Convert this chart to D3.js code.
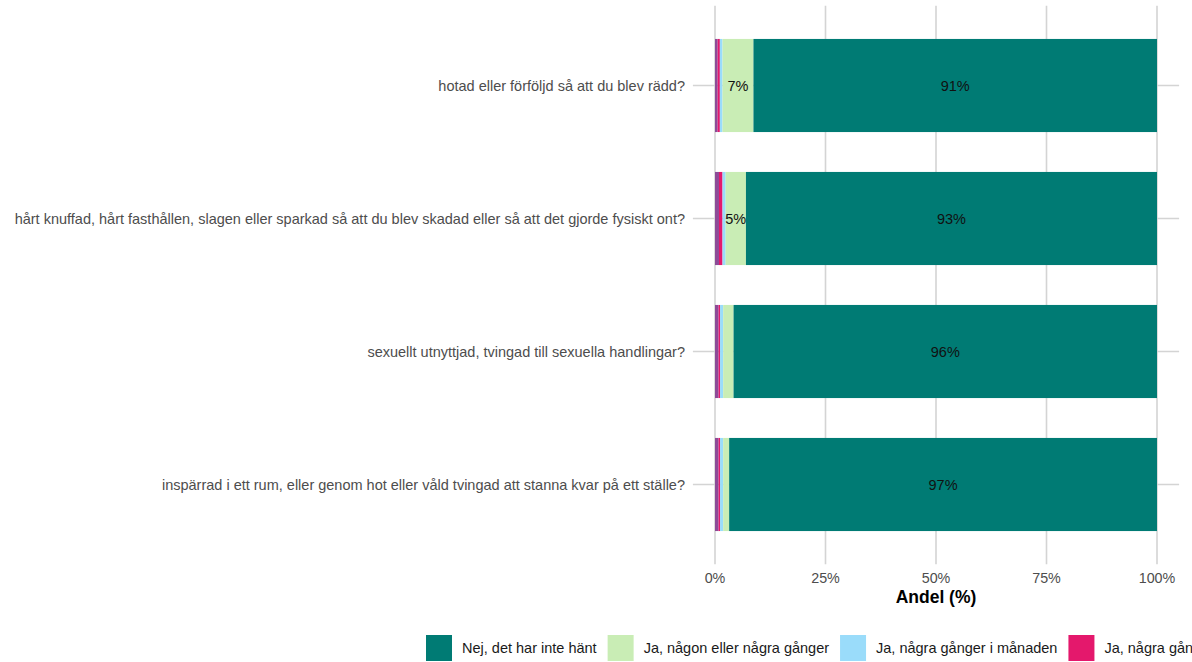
<!DOCTYPE html>
<html>
<head>
<meta charset="utf-8">
<script src="https://cdn.jsdelivr.net/npm/d3@7"></script>
<style>
  html, body { margin: 0; padding: 0; background: #fff; overflow: hidden; }
  svg { display: block; font-family: "Liberation Sans", Arial, sans-serif; }
</style>
</head>
<body>
<svg id="chart" width="1192" height="662"></svg>
<script>
// ---- data ----
const questions = [
  "hotad eller förföljd så att du blev rädd?",
  "hårt knuffad, hårt fasthållen, slagen eller sparkad så att du blev skadad eller så att det gjorde fysiskt ont?",
  "sexuellt utnyttjad, tvingad till sexuella handlingar?",
  "inspärrad i ett rum, eller genom hot eller våld tvingad att stanna kvar på ett ställe?"
];
// stack order from left to right
const responses = [
  "Ja, varje dag eller nästan varje dag",
  "Ja, några gånger i veckan",
  "Ja, några gånger i månaden",
  "Ja, någon eller några gånger",
  "Nej, det har inte hänt"
];
const colors = ["#8D4B97", "#E4186C", "#9ADCFA", "#C9EDB5", "#007B74"];
const dailyVals   = [0.6, 0.9, 0.8, 0.8];
const weeklyVals  = [0.5, 0.8, 0.35, 0.35];
const monthlyVals = [0.6, 0.7, 0.7, 0.7];
const someVals    = [7.0, 4.6, 2.35, 1.35];
const neverVals   = [91.3, 93.0, 95.8, 96.8];
const seriesVals = [dailyVals, weeklyVals, monthlyVals, someVals, neverVals];
const xTicks = [0, 25, 50, 75, 100];
const legendOrder = [4, 3, 2, 1, 0];

// ---- layout ----
const W = 1192;
const svg = d3.select("#chart");
const panel = { left: 692.9, right: 1179.1, top: 5.7, bottom: 564.3 };

const x = d3.scaleLinear().domain([-5, 105]).range([panel.left, panel.right]);
const y = d3.scalePoint().domain(questions).range([panel.top, panel.bottom]).padding(0.6);
const barH = y.step() * 0.7;

const rows = questions.map((q, i) => {
  let cum = 0;
  const segs = responses.map((r, j) => {
    const v = seriesVals[j][i];
    const s = { q, r, j, x0: cum, x1: cum + v, v };
    cum += v;
    return s;
  });
  return { q, segs };
});

// gridlines
const grid = svg.append("g").attr("stroke", "#d4d4d4").attr("stroke-width", 1.6);
grid.selectAll("line.v").data(xTicks).join("line")
  .attr("x1", d => x(d)).attr("x2", d => x(d))
  .attr("y1", panel.top).attr("y2", panel.bottom);
grid.selectAll("line.h").data(questions).join("line")
  .attr("x1", panel.left).attr("x2", panel.right)
  .attr("y1", d => y(d)).attr("y2", d => y(d));

// bars
const barG = svg.append("g");
rows.forEach(row => {
  barG.selectAll(null).data(row.segs).join("rect")
    .attr("x", d => x(d.x0))
    .attr("width", d => Math.max(0, x(d.x1) - x(d.x0)))
    .attr("y", y(row.q) - barH / 2)
    .attr("height", barH)
    .attr("fill", d => colors[d.j]);
  barG.selectAll(null).data(row.segs.filter(d => d.v >= 4.5)).join("text")
    .attr("x", d => x((d.x0 + d.x1) / 2))
    .attr("y", y(row.q))
    .attr("dy", "0.36em")
    .attr("text-anchor", "middle")
    .attr("font-size", 14.5)
    .attr("fill", "#111")
    .text(d => Math.round(d.v) + "%");
});

// y labels
svg.append("g").selectAll("text").data(questions).join("text")
  .attr("x", 685)
  .attr("y", d => y(d))
  .attr("dy", "0.36em")
  .attr("text-anchor", "end")
  .attr("font-size", 14.5)
  .attr("fill", "#4d4d4d")
  .text(d => d);

// x tick labels
svg.append("g").selectAll("text").data(xTicks).join("text")
  .attr("x", d => x(d))
  .attr("y", 578)
  .attr("dy", "0.36em")
  .attr("text-anchor", "middle")
  .attr("font-size", 14.3)
  .attr("fill", "#4d4d4d")
  .text(d => d + "%");

// axis title
svg.append("text")
  .attr("x", (panel.left + panel.right) / 2)
  .attr("y", 597)
  .attr("dy", "0.36em")
  .attr("text-anchor", "middle")
  .attr("font-size", 17.5)
  .attr("font-weight", "bold")
  .attr("fill", "#000")
  .text("Andel (%)");

// legend (entries that start beyond the right edge are not drawn, as in the reference)
const leg = svg.append("g");
let lx = 426;
const ly = 648;
legendOrder.forEach(j => {
  if (lx >= W) return;
  leg.append("rect")
    .attr("x", lx).attr("y", ly - 13).attr("width", 26).attr("height", 26)
    .attr("fill", colors[j]);
  const t = leg.append("text")
    .attr("x", lx + 36).attr("y", ly).attr("dy", "0.36em")
    .attr("font-size", 14.5).attr("fill", "#1a1a1a")
    .text(responses[j]);
  lx = lx + 36 + t.node().getComputedTextLength() + 11;
});
</script>
</body>
</html>
